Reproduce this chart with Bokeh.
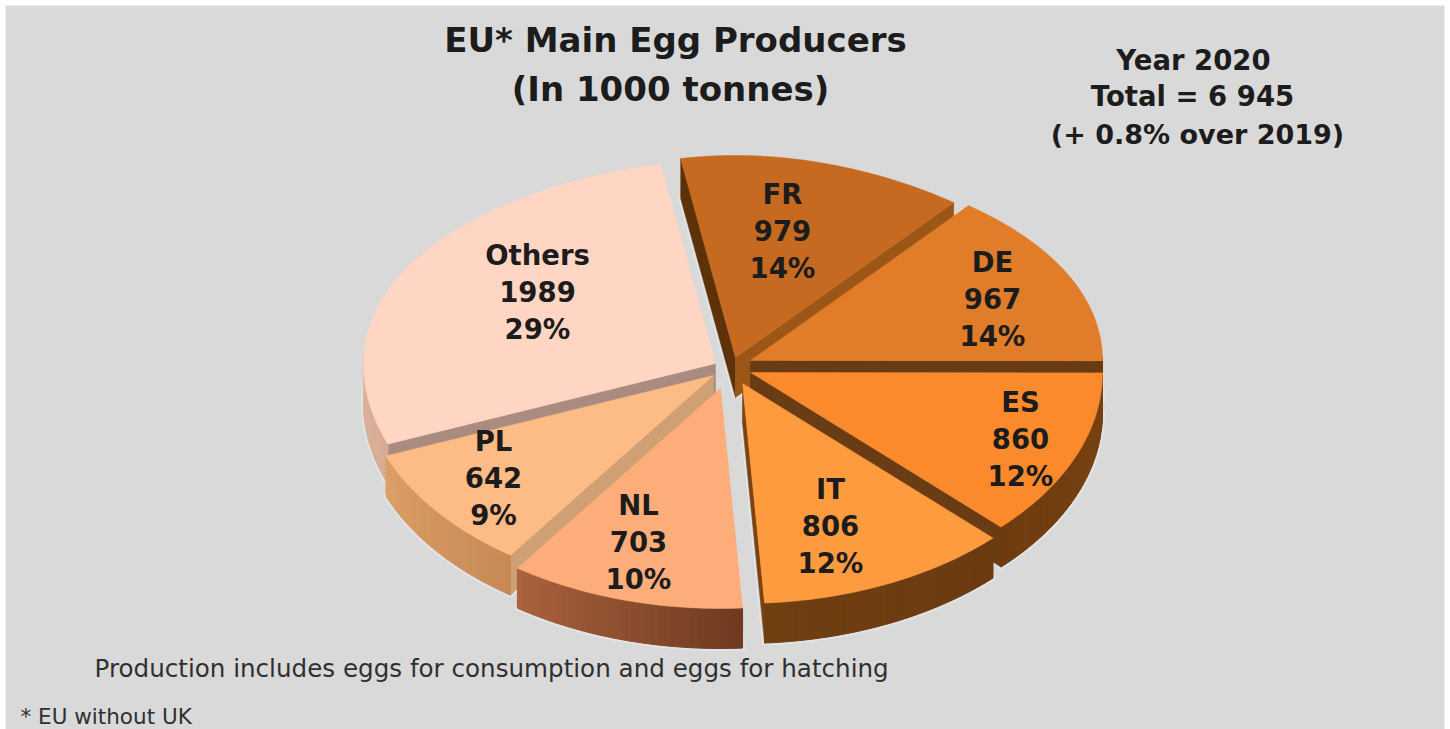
import math
from bokeh.plotting import figure
from bokeh.models import Range1d, ColumnDataSource
from bokeh.core.properties import value
from bokeh.embed import file_html
from bokeh.resources import INLINE

# ---- data ----
codes = ["FR", "DE", "ES", "IT", "NL", "PL", "Others"]
tonnes = [979, 967, 860, 806, 703, 642, 1989]
shares = [14, 14, 12, 12, 10, 9, 29]
title_lines = ["EU* Main Egg Producers", "(In 1000 tonnes)"]
info_lines = ["Year 2020", "Total = 6 945", "(+ 0.8% over 2019)"]
note = "Production includes eggs for consumption and eggs for hatching"
footnote = "* EU without UK"

# ---- layout and style ----
W, H = 1450, 729
FONT = "DejaVu Sans"
ROT = -10.8
RX, RY_BACK, RY_FRONT, DEPTH = 352, 202, 220, 40
tip_x = [735, 750, 750, 742, 720, 713, 715]
tip_y = [357, 360, 372, 383, 388, 375, 363]
top_col = ["#c56a20", "#e17c29", "#fb8a2c", "#fd9b3e", "#fdad79", "#fdbb86", "#ffd6c3"]
start_col = ["#5e3208", "#a05a1c", "#6a3c14", "#6a3c14", "#cfa074", "#cfa074", "#a98b80"]
end_col = ["#9c5618", "#6a3a10", "#6a3c14", "#7a4310", "#cfa074", "#a98b80", "#a98b80"]
arc_from = ["#6a3a10", "#6a3a10", "#7a4212", "#6c3a10", "#6e3a20", "#c88a55", "#d8ab94"]
arc_to = ["#6a3a10", "#6a3a10", "#6e3c10", "#6f3f12", "#ab623e", "#dd9f68", "#f0d0c0"]
label_x = [782, 992, 1020, 830, 638, 493, 537]
label_y = [193, 261, 401, 488, 504, 440, 254]
LINE = 37.3

p = figure(width=W, height=H, x_range=Range1d(0, W), y_range=Range1d(H, 0),
           output_backend="svg", toolbar_location=None, min_border=0,
           background_fill_color="#ffffff", border_fill_color="#ffffff")
p.axis.visible = False
p.grid.visible = False
p.outline_line_color = None
p.quad(left=[5], right=[1444], top=[5], bottom=[H], fill_color="#d9d9d9", line_color=None)


def pt(i, deg, depth=0.0):
    # perspective of the tilted pie: the left half opens slightly, the back narrows
    s0 = math.sin(math.radians(deg))
    deg = deg + 2.4 * min(1.0, max(0.0, -s0) * 2)
    a = math.radians(deg)
    c = math.cos(a)
    ry = RY_BACK if c > 0 else RY_FRONT
    rx = RX * (1 - 0.1 * max(c, 0) ** 4)
    return tip_x[i] + rx * math.sin(a), tip_y[i] - ry * c + depth


def mix(c1, c2, t):
    a = [int(c1[k:k + 2], 16) for k in (1, 3, 5)]
    b = [int(c2[k:k + 2], 16) for k in (1, 3, 5)]
    return "#%02x%02x%02x" % tuple(round(u + (v - u) * t) for u, v in zip(a, b))


total = sum(tonnes)
edges = [ROT]
for v in tonnes:
    edges.append(edges[-1] + 360 * v / total)

order = [6, 0, 1, 5, 2, 4, 3]
for i in order:
    a0, a1 = edges[i], edges[i + 1]
    n = max(2, int(a1 - a0))
    angs = [a0 + (a1 - a0) * k / n for k in range(n + 1)]
    arc = [pt(i, a) for a in angs]
    tx, ty = tip_x[i], tip_y[i]

    # pale halo around the whole solid
    low = [pt(i, a, DEPTH) for a in angs]
    hx = [tx] + [q[0] for q in arc] + [tx]
    hy = [ty] + [q[1] for q in arc] + [ty]
    hx2 = [tx] + [q[0] for q in low] + [tx]
    hy2 = [ty + DEPTH] + [q[1] for q in low] + [ty + DEPTH]
    p.line(hx2, hy2, line_color="#e8edf2", line_alpha=0.55, line_width=5, line_join="round")

    # radial cut faces, only those that look downward
    faces = []
    if math.sin(math.radians(a0)) < 0:
        faces.append((arc[0], start_col[i]))
    if math.sin(math.radians(a1)) > 0:
        faces.append((arc[-1], end_col[i]))
    for (qx, qy), col in faces:
        p.patch([tx, qx, qx, tx], [ty, qy, qy + DEPTH, ty + DEPTH],
                fill_color=col, line_color=col, line_width=0.5)

    # rim, visible only on the front half
    xs, ys, cols = [], [], []
    for k in range(n):
        mid = (angs[k] + angs[k + 1]) / 2
        if math.cos(math.radians(mid)) < 0.02:
            x0, y0 = arc[k]
            x1, y1 = arc[k + 1]
            xs.append([x0, x1, x1, x0])
            ys.append([y0, y1, y1 + DEPTH, y0 + DEPTH])
            cols.append(mix(arc_from[i], arc_to[i], k / max(1, n - 1)))
    if xs:
        p.patches(xs="xs", ys="ys", fill_color="c", line_color="c", line_width=1,
                  source=ColumnDataSource(dict(xs=xs, ys=ys, c=cols)))

    # top face
    p.patch(hx, hy, fill_color=top_col[i], line_color=top_col[i], line_width=0.5)


def label(x, y, s, size, weight="bold", color="#1c1c1c", align="center"):
    p.text([x], [y], text=[s], text_font=value(FONT), text_font_size=f"{size}px",
           text_font_style=weight, text_color=color, text_align=align,
           text_baseline="alphabetic")


for i, code in enumerate(codes):
    label(label_x[i], label_y[i], code, 27.5)
    label(label_x[i], label_y[i] + LINE, str(tonnes[i]), 27.5)
    label(label_x[i], label_y[i] + 2 * LINE, f"{shares[i]}%", 27.5)

label(675, 39, title_lines[0], 34)
label(670, 88, title_lines[1], 34)
label(1193, 59, info_lines[0], 27.5)
label(1192, 95, info_lines[1], 27.5)
label(1197, 134, info_lines[2], 27)
label(94, 668, note, 24.6, weight="normal", color="#303030", align="left")
label(20, 716, footnote, 21.5, weight="normal", color="#303030", align="left")

open("out.html", "w").write(file_html(p, INLINE))
